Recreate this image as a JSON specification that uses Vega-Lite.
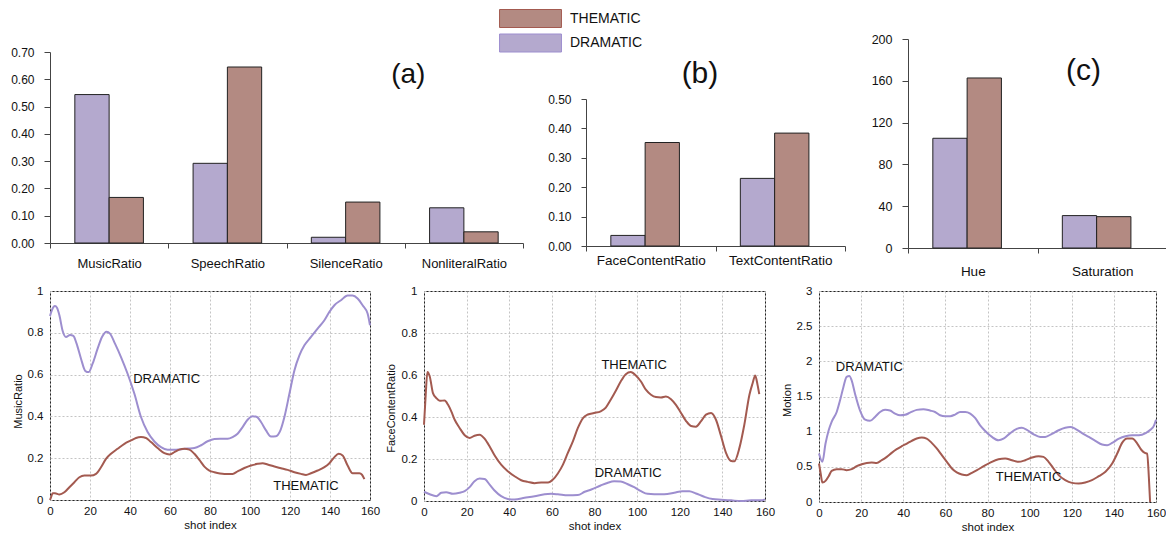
{
  "$schema": "https://vega.github.io/schema/vega-lite/v6.json",
  "background": "white",
  "padding": {"left": 7, "top": 9, "right": 0, "bottom": 0},
  "autosize": {"type": "pad"},
  "config": {
    "font": "Liberation Sans",
    "view": {"stroke": null},
    "axis": {"labelFont": "Liberation Sans", "titleFont": "Liberation Sans", "labelColor": "#111", "titleColor": "#111", "titleFontWeight": "normal", "labelOverlap": false},
    "legend": {"labelFont": "Liberation Sans"}
  },
  "datasets": {
    "bars_a": [
      {"feature": "MusicRatio", "genre": "DRAMATIC", "value": 0.544},
      {"feature": "MusicRatio", "genre": "THEMATIC", "value": 0.167},
      {"feature": "SpeechRatio", "genre": "DRAMATIC", "value": 0.292},
      {"feature": "SpeechRatio", "genre": "THEMATIC", "value": 0.645},
      {"feature": "SilenceRatio", "genre": "DRAMATIC", "value": 0.021},
      {"feature": "SilenceRatio", "genre": "THEMATIC", "value": 0.150},
      {"feature": "NonliteralRatio", "genre": "DRAMATIC", "value": 0.129},
      {"feature": "NonliteralRatio", "genre": "THEMATIC", "value": 0.041}
    ],
    "bars_b": [
      {"feature": "FaceContentRatio", "genre": "DRAMATIC", "value": 0.036},
      {"feature": "FaceContentRatio", "genre": "THEMATIC", "value": 0.352},
      {"feature": "TextContentRatio", "genre": "DRAMATIC", "value": 0.230},
      {"feature": "TextContentRatio", "genre": "THEMATIC", "value": 0.384}
    ],
    "bars_c": [
      {"feature": "Hue", "genre": "DRAMATIC", "value": 105},
      {"feature": "Hue", "genre": "THEMATIC", "value": 162.7},
      {"feature": "Saturation", "genre": "DRAMATIC", "value": 31},
      {"feature": "Saturation", "genre": "THEMATIC", "value": 30}
    ],
    "music": [
      {"genre": "DRAMATIC", "shot": 0, "value": 0.88},
      {"genre": "DRAMATIC", "shot": 1, "value": 0.91},
      {"genre": "DRAMATIC", "shot": 2.5, "value": 0.928},
      {"genre": "DRAMATIC", "shot": 3.5, "value": 0.92},
      {"genre": "DRAMATIC", "shot": 4.7, "value": 0.884},
      {"genre": "DRAMATIC", "shot": 6.3, "value": 0.81},
      {"genre": "DRAMATIC", "shot": 8, "value": 0.78},
      {"genre": "DRAMATIC", "shot": 10, "value": 0.79},
      {"genre": "DRAMATIC", "shot": 11.7, "value": 0.785},
      {"genre": "DRAMATIC", "shot": 13.3, "value": 0.748},
      {"genre": "DRAMATIC", "shot": 15.5, "value": 0.676},
      {"genre": "DRAMATIC", "shot": 17.7, "value": 0.617},
      {"genre": "DRAMATIC", "shot": 19.3, "value": 0.612},
      {"genre": "DRAMATIC", "shot": 21.3, "value": 0.652},
      {"genre": "DRAMATIC", "shot": 23.8, "value": 0.724},
      {"genre": "DRAMATIC", "shot": 26, "value": 0.78},
      {"genre": "DRAMATIC", "shot": 28.3, "value": 0.805},
      {"genre": "DRAMATIC", "shot": 30, "value": 0.796},
      {"genre": "DRAMATIC", "shot": 32.5, "value": 0.748},
      {"genre": "DRAMATIC", "shot": 35.5, "value": 0.684},
      {"genre": "DRAMATIC", "shot": 38.8, "value": 0.604},
      {"genre": "DRAMATIC", "shot": 42.2, "value": 0.508},
      {"genre": "DRAMATIC", "shot": 45.5, "value": 0.397},
      {"genre": "DRAMATIC", "shot": 48.8, "value": 0.325},
      {"genre": "DRAMATIC", "shot": 52.2, "value": 0.28},
      {"genre": "DRAMATIC", "shot": 55.5, "value": 0.253},
      {"genre": "DRAMATIC", "shot": 58.8, "value": 0.241},
      {"genre": "DRAMATIC", "shot": 62.2, "value": 0.240},
      {"genre": "DRAMATIC", "shot": 65.5, "value": 0.243},
      {"genre": "DRAMATIC", "shot": 68.8, "value": 0.246},
      {"genre": "DRAMATIC", "shot": 72.2, "value": 0.249},
      {"genre": "DRAMATIC", "shot": 75.5, "value": 0.262},
      {"genre": "DRAMATIC", "shot": 78.8, "value": 0.281},
      {"genre": "DRAMATIC", "shot": 82.2, "value": 0.292},
      {"genre": "DRAMATIC", "shot": 85, "value": 0.293},
      {"genre": "DRAMATIC", "shot": 88.8, "value": 0.293},
      {"genre": "DRAMATIC", "shot": 91.3, "value": 0.301},
      {"genre": "DRAMATIC", "shot": 93.8, "value": 0.317},
      {"genre": "DRAMATIC", "shot": 96.3, "value": 0.349},
      {"genre": "DRAMATIC", "shot": 98.8, "value": 0.384},
      {"genre": "DRAMATIC", "shot": 101.3, "value": 0.401},
      {"genre": "DRAMATIC", "shot": 103.5, "value": 0.397},
      {"genre": "DRAMATIC", "shot": 105.5, "value": 0.373},
      {"genre": "DRAMATIC", "shot": 108, "value": 0.333},
      {"genre": "DRAMATIC", "shot": 110.5, "value": 0.304},
      {"genre": "DRAMATIC", "shot": 113, "value": 0.305},
      {"genre": "DRAMATIC", "shot": 115.2, "value": 0.333},
      {"genre": "DRAMATIC", "shot": 117.2, "value": 0.397},
      {"genre": "DRAMATIC", "shot": 119.7, "value": 0.508},
      {"genre": "DRAMATIC", "shot": 122.2, "value": 0.620},
      {"genre": "DRAMATIC", "shot": 124.7, "value": 0.692},
      {"genre": "DRAMATIC", "shot": 127.2, "value": 0.74},
      {"genre": "DRAMATIC", "shot": 130.5, "value": 0.78},
      {"genre": "DRAMATIC", "shot": 133.8, "value": 0.82},
      {"genre": "DRAMATIC", "shot": 137.2, "value": 0.86},
      {"genre": "DRAMATIC", "shot": 139.7, "value": 0.90},
      {"genre": "DRAMATIC", "shot": 142.2, "value": 0.932},
      {"genre": "DRAMATIC", "shot": 145.5, "value": 0.956},
      {"genre": "DRAMATIC", "shot": 148.8, "value": 0.978},
      {"genre": "DRAMATIC", "shot": 151.3, "value": 0.978},
      {"genre": "DRAMATIC", "shot": 153.8, "value": 0.964},
      {"genre": "DRAMATIC", "shot": 156.3, "value": 0.932},
      {"genre": "DRAMATIC", "shot": 158.8, "value": 0.892},
      {"genre": "DRAMATIC", "shot": 160, "value": 0.836},
      {"genre": "THEMATIC", "shot": 0, "value": 0.0},
      {"genre": "THEMATIC", "shot": 0.5, "value": 0.012},
      {"genre": "THEMATIC", "shot": 1.3, "value": 0.032},
      {"genre": "THEMATIC", "shot": 2.5, "value": 0.032},
      {"genre": "THEMATIC", "shot": 4.7, "value": 0.026},
      {"genre": "THEMATIC", "shot": 7.2, "value": 0.037},
      {"genre": "THEMATIC", "shot": 9.7, "value": 0.061},
      {"genre": "THEMATIC", "shot": 12.2, "value": 0.085},
      {"genre": "THEMATIC", "shot": 14.7, "value": 0.109},
      {"genre": "THEMATIC", "shot": 17.2, "value": 0.117},
      {"genre": "THEMATIC", "shot": 20.5, "value": 0.117},
      {"genre": "THEMATIC", "shot": 23, "value": 0.125},
      {"genre": "THEMATIC", "shot": 25.5, "value": 0.157},
      {"genre": "THEMATIC", "shot": 28, "value": 0.197},
      {"genre": "THEMATIC", "shot": 30.5, "value": 0.221},
      {"genre": "THEMATIC", "shot": 33.8, "value": 0.245},
      {"genre": "THEMATIC", "shot": 37.2, "value": 0.269},
      {"genre": "THEMATIC", "shot": 40.5, "value": 0.285},
      {"genre": "THEMATIC", "shot": 43, "value": 0.297},
      {"genre": "THEMATIC", "shot": 45.5, "value": 0.301},
      {"genre": "THEMATIC", "shot": 48, "value": 0.297},
      {"genre": "THEMATIC", "shot": 50.5, "value": 0.277},
      {"genre": "THEMATIC", "shot": 53.8, "value": 0.249},
      {"genre": "THEMATIC", "shot": 57.2, "value": 0.224},
      {"genre": "THEMATIC", "shot": 59.7, "value": 0.218},
      {"genre": "THEMATIC", "shot": 62.2, "value": 0.229},
      {"genre": "THEMATIC", "shot": 64.7, "value": 0.241},
      {"genre": "THEMATIC", "shot": 67.2, "value": 0.245},
      {"genre": "THEMATIC", "shot": 69.7, "value": 0.241},
      {"genre": "THEMATIC", "shot": 72.2, "value": 0.221},
      {"genre": "THEMATIC", "shot": 74.7, "value": 0.192},
      {"genre": "THEMATIC", "shot": 77.2, "value": 0.16},
      {"genre": "THEMATIC", "shot": 79.7, "value": 0.141},
      {"genre": "THEMATIC", "shot": 82.2, "value": 0.133},
      {"genre": "THEMATIC", "shot": 85, "value": 0.127},
      {"genre": "THEMATIC", "shot": 87.2, "value": 0.125},
      {"genre": "THEMATIC", "shot": 91.3, "value": 0.125},
      {"genre": "THEMATIC", "shot": 93.8, "value": 0.137},
      {"genre": "THEMATIC", "shot": 97.2, "value": 0.153},
      {"genre": "THEMATIC", "shot": 100.5, "value": 0.165},
      {"genre": "THEMATIC", "shot": 103.8, "value": 0.173},
      {"genre": "THEMATIC", "shot": 106.3, "value": 0.176},
      {"genre": "THEMATIC", "shot": 108.8, "value": 0.17},
      {"genre": "THEMATIC", "shot": 112.2, "value": 0.16},
      {"genre": "THEMATIC", "shot": 115.5, "value": 0.152},
      {"genre": "THEMATIC", "shot": 118.8, "value": 0.144},
      {"genre": "THEMATIC", "shot": 122.2, "value": 0.133},
      {"genre": "THEMATIC", "shot": 125.5, "value": 0.125},
      {"genre": "THEMATIC", "shot": 128, "value": 0.12},
      {"genre": "THEMATIC", "shot": 130.5, "value": 0.128},
      {"genre": "THEMATIC", "shot": 133.8, "value": 0.141},
      {"genre": "THEMATIC", "shot": 137.2, "value": 0.157},
      {"genre": "THEMATIC", "shot": 139.7, "value": 0.176},
      {"genre": "THEMATIC", "shot": 142.2, "value": 0.205},
      {"genre": "THEMATIC", "shot": 144.3, "value": 0.221},
      {"genre": "THEMATIC", "shot": 146.3, "value": 0.213},
      {"genre": "THEMATIC", "shot": 148.8, "value": 0.165},
      {"genre": "THEMATIC", "shot": 151.3, "value": 0.128},
      {"genre": "THEMATIC", "shot": 154.7, "value": 0.128},
      {"genre": "THEMATIC", "shot": 156, "value": 0.121},
      {"genre": "THEMATIC", "shot": 157.2, "value": 0.10}
    ],
    "face": [
      {"genre": "THEMATIC", "shot": 0, "value": 0.363},
      {"genre": "THEMATIC", "shot": 0.8, "value": 0.506},
      {"genre": "THEMATIC", "shot": 1.6, "value": 0.614},
      {"genre": "THEMATIC", "shot": 2.7, "value": 0.593},
      {"genre": "THEMATIC", "shot": 4.2, "value": 0.514},
      {"genre": "THEMATIC", "shot": 5.8, "value": 0.49},
      {"genre": "THEMATIC", "shot": 7.4, "value": 0.477},
      {"genre": "THEMATIC", "shot": 9.7, "value": 0.479},
      {"genre": "THEMATIC", "shot": 11.3, "value": 0.458},
      {"genre": "THEMATIC", "shot": 12.8, "value": 0.427},
      {"genre": "THEMATIC", "shot": 14.4, "value": 0.387},
      {"genre": "THEMATIC", "shot": 16.7, "value": 0.348},
      {"genre": "THEMATIC", "shot": 19.1, "value": 0.313},
      {"genre": "THEMATIC", "shot": 21.4, "value": 0.30},
      {"genre": "THEMATIC", "shot": 23.7, "value": 0.311},
      {"genre": "THEMATIC", "shot": 26.1, "value": 0.316},
      {"genre": "THEMATIC", "shot": 28.4, "value": 0.297},
      {"genre": "THEMATIC", "shot": 30.8, "value": 0.26},
      {"genre": "THEMATIC", "shot": 33.1, "value": 0.218},
      {"genre": "THEMATIC", "shot": 36.2, "value": 0.173},
      {"genre": "THEMATIC", "shot": 39.3, "value": 0.142},
      {"genre": "THEMATIC", "shot": 42.5, "value": 0.118},
      {"genre": "THEMATIC", "shot": 45.6, "value": 0.099},
      {"genre": "THEMATIC", "shot": 48.7, "value": 0.091},
      {"genre": "THEMATIC", "shot": 51.9, "value": 0.085},
      {"genre": "THEMATIC", "shot": 55, "value": 0.088},
      {"genre": "THEMATIC", "shot": 58.2, "value": 0.088},
      {"genre": "THEMATIC", "shot": 60.5, "value": 0.102},
      {"genre": "THEMATIC", "shot": 62.8, "value": 0.131},
      {"genre": "THEMATIC", "shot": 65.2, "value": 0.173},
      {"genre": "THEMATIC", "shot": 67.5, "value": 0.229},
      {"genre": "THEMATIC", "shot": 69.9, "value": 0.285},
      {"genre": "THEMATIC", "shot": 72.2, "value": 0.348},
      {"genre": "THEMATIC", "shot": 74.6, "value": 0.395},
      {"genre": "THEMATIC", "shot": 76.9, "value": 0.412},
      {"genre": "THEMATIC", "shot": 79.8, "value": 0.419},
      {"genre": "THEMATIC", "shot": 82.9, "value": 0.427},
      {"genre": "THEMATIC", "shot": 85.3, "value": 0.445},
      {"genre": "THEMATIC", "shot": 87.6, "value": 0.482},
      {"genre": "THEMATIC", "shot": 90, "value": 0.525},
      {"genre": "THEMATIC", "shot": 92.3, "value": 0.569},
      {"genre": "THEMATIC", "shot": 94.7, "value": 0.604},
      {"genre": "THEMATIC", "shot": 97, "value": 0.614},
      {"genre": "THEMATIC", "shot": 99.4, "value": 0.598},
      {"genre": "THEMATIC", "shot": 101.8, "value": 0.569},
      {"genre": "THEMATIC", "shot": 104.1, "value": 0.53},
      {"genre": "THEMATIC", "shot": 106.5, "value": 0.506},
      {"genre": "THEMATIC", "shot": 108.8, "value": 0.495},
      {"genre": "THEMATIC", "shot": 111.2, "value": 0.493},
      {"genre": "THEMATIC", "shot": 113.5, "value": 0.498},
      {"genre": "THEMATIC", "shot": 115.9, "value": 0.485},
      {"genre": "THEMATIC", "shot": 118.2, "value": 0.458},
      {"genre": "THEMATIC", "shot": 120.6, "value": 0.419},
      {"genre": "THEMATIC", "shot": 122.9, "value": 0.382},
      {"genre": "THEMATIC", "shot": 125.3, "value": 0.357},
      {"genre": "THEMATIC", "shot": 127.6, "value": 0.354},
      {"genre": "THEMATIC", "shot": 130, "value": 0.38},
      {"genre": "THEMATIC", "shot": 132.3, "value": 0.411},
      {"genre": "THEMATIC", "shot": 134.7, "value": 0.419},
      {"genre": "THEMATIC", "shot": 137, "value": 0.387},
      {"genre": "THEMATIC", "shot": 139.4, "value": 0.308},
      {"genre": "THEMATIC", "shot": 141.7, "value": 0.229},
      {"genre": "THEMATIC", "shot": 143.8, "value": 0.192},
      {"genre": "THEMATIC", "shot": 145.6, "value": 0.189},
      {"genre": "THEMATIC", "shot": 148, "value": 0.253},
      {"genre": "THEMATIC", "shot": 150.3, "value": 0.363},
      {"genre": "THEMATIC", "shot": 152.7, "value": 0.506},
      {"genre": "THEMATIC", "shot": 154.2, "value": 0.561},
      {"genre": "THEMATIC", "shot": 155.4, "value": 0.598},
      {"genre": "THEMATIC", "shot": 156.5, "value": 0.553},
      {"genre": "THEMATIC", "shot": 157.3, "value": 0.509},
      {"genre": "DRAMATIC", "shot": 0, "value": 0.044},
      {"genre": "DRAMATIC", "shot": 2.7, "value": 0.032},
      {"genre": "DRAMATIC", "shot": 5.8, "value": 0.023},
      {"genre": "DRAMATIC", "shot": 8.1, "value": 0.039},
      {"genre": "DRAMATIC", "shot": 10.4, "value": 0.042},
      {"genre": "DRAMATIC", "shot": 13.6, "value": 0.034},
      {"genre": "DRAMATIC", "shot": 16.7, "value": 0.039},
      {"genre": "DRAMATIC", "shot": 19.1, "value": 0.047},
      {"genre": "DRAMATIC", "shot": 21.4, "value": 0.066},
      {"genre": "DRAMATIC", "shot": 23.7, "value": 0.094},
      {"genre": "DRAMATIC", "shot": 26.1, "value": 0.107},
      {"genre": "DRAMATIC", "shot": 28.4, "value": 0.105},
      {"genre": "DRAMATIC", "shot": 30.8, "value": 0.078},
      {"genre": "DRAMATIC", "shot": 33.1, "value": 0.05},
      {"genre": "DRAMATIC", "shot": 36.2, "value": 0.023},
      {"genre": "DRAMATIC", "shot": 39.3, "value": 0.01},
      {"genre": "DRAMATIC", "shot": 42.5, "value": 0.007},
      {"genre": "DRAMATIC", "shot": 47.2, "value": 0.015},
      {"genre": "DRAMATIC", "shot": 51.9, "value": 0.023},
      {"genre": "DRAMATIC", "shot": 56.6, "value": 0.032},
      {"genre": "DRAMATIC", "shot": 59.7, "value": 0.034},
      {"genre": "DRAMATIC", "shot": 62.8, "value": 0.032},
      {"genre": "DRAMATIC", "shot": 67.5, "value": 0.027},
      {"genre": "DRAMATIC", "shot": 72.2, "value": 0.028},
      {"genre": "DRAMATIC", "shot": 75.4, "value": 0.044},
      {"genre": "DRAMATIC", "shot": 78.5, "value": 0.055},
      {"genre": "DRAMATIC", "shot": 82.9, "value": 0.074},
      {"genre": "DRAMATIC", "shot": 86, "value": 0.086},
      {"genre": "DRAMATIC", "shot": 89.2, "value": 0.094},
      {"genre": "DRAMATIC", "shot": 92.3, "value": 0.093},
      {"genre": "DRAMATIC", "shot": 95.4, "value": 0.081},
      {"genre": "DRAMATIC", "shot": 98.6, "value": 0.066},
      {"genre": "DRAMATIC", "shot": 101.8, "value": 0.047},
      {"genre": "DRAMATIC", "shot": 104.9, "value": 0.034},
      {"genre": "DRAMATIC", "shot": 108, "value": 0.032},
      {"genre": "DRAMATIC", "shot": 112.7, "value": 0.032},
      {"genre": "DRAMATIC", "shot": 117.4, "value": 0.039},
      {"genre": "DRAMATIC", "shot": 121.3, "value": 0.047},
      {"genre": "DRAMATIC", "shot": 124.5, "value": 0.047},
      {"genre": "DRAMATIC", "shot": 127.6, "value": 0.036},
      {"genre": "DRAMATIC", "shot": 131.5, "value": 0.02},
      {"genre": "DRAMATIC", "shot": 135.4, "value": 0.009},
      {"genre": "DRAMATIC", "shot": 139.4, "value": 0.006},
      {"genre": "DRAMATIC", "shot": 144.1, "value": 0.003},
      {"genre": "DRAMATIC", "shot": 148.8, "value": 0.0},
      {"genre": "DRAMATIC", "shot": 153.5, "value": 0.003},
      {"genre": "DRAMATIC", "shot": 158.2, "value": 0.003},
      {"genre": "DRAMATIC", "shot": 160, "value": 0.008}
    ],
    "motion": [
      {"genre": "DRAMATIC", "shot": 0, "value": 0.689},
      {"genre": "DRAMATIC", "shot": 1.6, "value": 0.571},
      {"genre": "DRAMATIC", "shot": 3.1, "value": 0.831},
      {"genre": "DRAMATIC", "shot": 4.6, "value": 1.02},
      {"genre": "DRAMATIC", "shot": 6.0, "value": 1.14},
      {"genre": "DRAMATIC", "shot": 8.4, "value": 1.28},
      {"genre": "DRAMATIC", "shot": 10, "value": 1.446},
      {"genre": "DRAMATIC", "shot": 11.6, "value": 1.636},
      {"genre": "DRAMATIC", "shot": 13.1, "value": 1.778},
      {"genre": "DRAMATIC", "shot": 14.4, "value": 1.79},
      {"genre": "DRAMATIC", "shot": 15.5, "value": 1.73},
      {"genre": "DRAMATIC", "shot": 17.1, "value": 1.54},
      {"genre": "DRAMATIC", "shot": 19.5, "value": 1.30},
      {"genre": "DRAMATIC", "shot": 21.9, "value": 1.17},
      {"genre": "DRAMATIC", "shot": 24.2, "value": 1.154},
      {"genre": "DRAMATIC", "shot": 26.6, "value": 1.21},
      {"genre": "DRAMATIC", "shot": 29, "value": 1.28},
      {"genre": "DRAMATIC", "shot": 31.4, "value": 1.31},
      {"genre": "DRAMATIC", "shot": 33.7, "value": 1.30},
      {"genre": "DRAMATIC", "shot": 36.1, "value": 1.257},
      {"genre": "DRAMATIC", "shot": 38.5, "value": 1.233},
      {"genre": "DRAMATIC", "shot": 40.9, "value": 1.24},
      {"genre": "DRAMATIC", "shot": 43.2, "value": 1.27},
      {"genre": "DRAMATIC", "shot": 46.4, "value": 1.31},
      {"genre": "DRAMATIC", "shot": 49.6, "value": 1.32},
      {"genre": "DRAMATIC", "shot": 52.7, "value": 1.30},
      {"genre": "DRAMATIC", "shot": 55.1, "value": 1.28},
      {"genre": "DRAMATIC", "shot": 57.5, "value": 1.233},
      {"genre": "DRAMATIC", "shot": 59.9, "value": 1.22},
      {"genre": "DRAMATIC", "shot": 62.3, "value": 1.22},
      {"genre": "DRAMATIC", "shot": 64.6, "value": 1.243},
      {"genre": "DRAMATIC", "shot": 67, "value": 1.28},
      {"genre": "DRAMATIC", "shot": 69.4, "value": 1.28},
      {"genre": "DRAMATIC", "shot": 71.8, "value": 1.257},
      {"genre": "DRAMATIC", "shot": 74.1, "value": 1.195},
      {"genre": "DRAMATIC", "shot": 76.5, "value": 1.09},
      {"genre": "DRAMATIC", "shot": 78.9, "value": 1.01},
      {"genre": "DRAMATIC", "shot": 82.1, "value": 0.925},
      {"genre": "DRAMATIC", "shot": 85.2, "value": 0.878},
      {"genre": "DRAMATIC", "shot": 87.6, "value": 0.9},
      {"genre": "DRAMATIC", "shot": 90.8, "value": 0.98},
      {"genre": "DRAMATIC", "shot": 93.9, "value": 1.04},
      {"genre": "DRAMATIC", "shot": 96.3, "value": 1.055},
      {"genre": "DRAMATIC", "shot": 98.7, "value": 1.027},
      {"genre": "DRAMATIC", "shot": 101.9, "value": 0.963},
      {"genre": "DRAMATIC", "shot": 105, "value": 0.925},
      {"genre": "DRAMATIC", "shot": 107.4, "value": 0.925},
      {"genre": "DRAMATIC", "shot": 110.6, "value": 0.97},
      {"genre": "DRAMATIC", "shot": 113.8, "value": 1.02},
      {"genre": "DRAMATIC", "shot": 116.9, "value": 1.055},
      {"genre": "DRAMATIC", "shot": 119.3, "value": 1.065},
      {"genre": "DRAMATIC", "shot": 121.7, "value": 1.04},
      {"genre": "DRAMATIC", "shot": 124.9, "value": 0.98},
      {"genre": "DRAMATIC", "shot": 128.1, "value": 0.925},
      {"genre": "DRAMATIC", "shot": 131.2, "value": 0.87},
      {"genre": "DRAMATIC", "shot": 134.4, "value": 0.817},
      {"genre": "DRAMATIC", "shot": 136.8, "value": 0.807},
      {"genre": "DRAMATIC", "shot": 139.2, "value": 0.84},
      {"genre": "DRAMATIC", "shot": 142.4, "value": 0.9},
      {"genre": "DRAMATIC", "shot": 145.5, "value": 0.935},
      {"genre": "DRAMATIC", "shot": 148.7, "value": 0.95},
      {"genre": "DRAMATIC", "shot": 151.9, "value": 0.95},
      {"genre": "DRAMATIC", "shot": 155.1, "value": 0.98},
      {"genre": "DRAMATIC", "shot": 157.5, "value": 1.03},
      {"genre": "DRAMATIC", "shot": 159.1, "value": 1.09},
      {"genre": "DRAMATIC", "shot": 160, "value": 1.17},
      {"genre": "THEMATIC", "shot": 0, "value": 0.547},
      {"genre": "THEMATIC", "shot": 0.8, "value": 0.405},
      {"genre": "THEMATIC", "shot": 1.6, "value": 0.277},
      {"genre": "THEMATIC", "shot": 3.1, "value": 0.30},
      {"genre": "THEMATIC", "shot": 4.6, "value": 0.367},
      {"genre": "THEMATIC", "shot": 6.0, "value": 0.443},
      {"genre": "THEMATIC", "shot": 8.4, "value": 0.467},
      {"genre": "THEMATIC", "shot": 10.8, "value": 0.467},
      {"genre": "THEMATIC", "shot": 13.1, "value": 0.453},
      {"genre": "THEMATIC", "shot": 15.5, "value": 0.467},
      {"genre": "THEMATIC", "shot": 17.9, "value": 0.509},
      {"genre": "THEMATIC", "shot": 20.3, "value": 0.537},
      {"genre": "THEMATIC", "shot": 22.7, "value": 0.556},
      {"genre": "THEMATIC", "shot": 25, "value": 0.561},
      {"genre": "THEMATIC", "shot": 27.4, "value": 0.556},
      {"genre": "THEMATIC", "shot": 29.8, "value": 0.594},
      {"genre": "THEMATIC", "shot": 32.2, "value": 0.642},
      {"genre": "THEMATIC", "shot": 34.5, "value": 0.699},
      {"genre": "THEMATIC", "shot": 36.9, "value": 0.751},
      {"genre": "THEMATIC", "shot": 39.3, "value": 0.793},
      {"genre": "THEMATIC", "shot": 41.7, "value": 0.831},
      {"genre": "THEMATIC", "shot": 44, "value": 0.869},
      {"genre": "THEMATIC", "shot": 46.4, "value": 0.902},
      {"genre": "THEMATIC", "shot": 48.8, "value": 0.916},
      {"genre": "THEMATIC", "shot": 51.1, "value": 0.902},
      {"genre": "THEMATIC", "shot": 53.5, "value": 0.841},
      {"genre": "THEMATIC", "shot": 55.9, "value": 0.761},
      {"genre": "THEMATIC", "shot": 58.3, "value": 0.666},
      {"genre": "THEMATIC", "shot": 60.7, "value": 0.571},
      {"genre": "THEMATIC", "shot": 63.1, "value": 0.476},
      {"genre": "THEMATIC", "shot": 65.4, "value": 0.42},
      {"genre": "THEMATIC", "shot": 67.8, "value": 0.391},
      {"genre": "THEMATIC", "shot": 70.2, "value": 0.382},
      {"genre": "THEMATIC", "shot": 72.6, "value": 0.415},
      {"genre": "THEMATIC", "shot": 75, "value": 0.453},
      {"genre": "THEMATIC", "shot": 78.2, "value": 0.509},
      {"genre": "THEMATIC", "shot": 81.3, "value": 0.56},
      {"genre": "THEMATIC", "shot": 85.2, "value": 0.608},
      {"genre": "THEMATIC", "shot": 88.4, "value": 0.618},
      {"genre": "THEMATIC", "shot": 91.6, "value": 0.594},
      {"genre": "THEMATIC", "shot": 94.7, "value": 0.571},
      {"genre": "THEMATIC", "shot": 97.9, "value": 0.594},
      {"genre": "THEMATIC", "shot": 101.1, "value": 0.632},
      {"genre": "THEMATIC", "shot": 104.2, "value": 0.651},
      {"genre": "THEMATIC", "shot": 106.6, "value": 0.642},
      {"genre": "THEMATIC", "shot": 109, "value": 0.571},
      {"genre": "THEMATIC", "shot": 111.4, "value": 0.476},
      {"genre": "THEMATIC", "shot": 113.8, "value": 0.382},
      {"genre": "THEMATIC", "shot": 116.9, "value": 0.31},
      {"genre": "THEMATIC", "shot": 120.1, "value": 0.272},
      {"genre": "THEMATIC", "shot": 123.3, "value": 0.263},
      {"genre": "THEMATIC", "shot": 126.4, "value": 0.277},
      {"genre": "THEMATIC", "shot": 129.6, "value": 0.31},
      {"genre": "THEMATIC", "shot": 132.8, "value": 0.367},
      {"genre": "THEMATIC", "shot": 136, "value": 0.429},
      {"genre": "THEMATIC", "shot": 139.2, "value": 0.547},
      {"genre": "THEMATIC", "shot": 141.6, "value": 0.689},
      {"genre": "THEMATIC", "shot": 143.9, "value": 0.841},
      {"genre": "THEMATIC", "shot": 146.3, "value": 0.902},
      {"genre": "THEMATIC", "shot": 148.7, "value": 0.902},
      {"genre": "THEMATIC", "shot": 151.1, "value": 0.831},
      {"genre": "THEMATIC", "shot": 153.2, "value": 0.736},
      {"genre": "THEMATIC", "shot": 154.7, "value": 0.699},
      {"genre": "THEMATIC", "shot": 155.8, "value": 0.689},
      {"genre": "THEMATIC", "shot": 156.6, "value": 0.358},
      {"genre": "THEMATIC", "shot": 157.2, "value": 0.0}
    ]
  },
  "spacing": 6,
  "vconcat": [
    {
      "bounds": "flush",
      "spacing": 63,
      "hconcat": [
        {
          "width": 473,
          "height": 204,
          "encoding": {
            "x": {"field": "feature", "type": "nominal", "sort": ["MusicRatio", "SpeechRatio", "SilenceRatio", "NonliteralRatio"], "scale": {"paddingInner": 0, "paddingOuter": 0}, "axis": {"title": null, "labelAngle": 0, "tickBand": "extent", "tickSize": 5, "labelPadding": 9, "labelFontSize": 13, "labelOverlap": false, "domainColor": "#444", "tickColor": "#444"}},
            "y": {"field": "value", "type": "quantitative", "scale": {"domain": [0, 0.7], "range": [204, 13], "nice": false}, "axis": {"title": null, "values": [0, 0.1, 0.2, 0.3, 0.4, 0.5, 0.6, 0.7], "format": ".2f", "grid": false, "tickSize": 6, "labelPadding": 10, "labelFontSize": 12, "labelOverlap": false, "minExtent": 42, "maxExtent": 42, "domainColor": "#444", "tickColor": "#444"}}
          },
          "layer": [
            {
              "data": {"name": "bars_a"},
              "mark": {"type": "bar", "stroke": "#222", "strokeWidth": 1},
              "encoding": {
                "xOffset": {"field": "genre", "type": "nominal", "sort": ["DRAMATIC", "THEMATIC"], "scale": {"paddingInner": 0, "paddingOuter": 0.724}},
                "fill": {"field": "genre", "type": "nominal", "scale": {"domain": ["THEMATIC", "DRAMATIC"], "range": ["#b38a82", "#b4a9ce"]}, "legend": {"orient": "none", "legendX": 471, "legendY": -30, "title": null, "direction": "vertical", "symbolType": "M-3.44,-1H3.44V1H-3.44Z", "symbolSize": 324, "symbolStrokeColor": "#333", "symbolStrokeWidth": 1, "symbolOpacity": 1, "labelFontSize": 14, "labelOffset": 30, "rowPadding": 1.5, "padding": 0, "labelColor": "#111"}}
              }
            },
            {
              "data": {"values": [{"label": "(a)", "feature": "NonliteralRatio", "value": 0.586}]},
              "mark": {"type": "text", "fontSize": 28, "font": "Liberation Sans", "color": "#111", "baseline": "alphabetic", "align": "center"},
              "encoding": {
                "x": {"field": "feature", "type": "nominal", "bandPosition": 0.03, "sort": ["MusicRatio", "SpeechRatio", "SilenceRatio", "NonliteralRatio"], "scale": {"paddingInner": 0, "paddingOuter": 0}, "axis": {"title": null, "labelAngle": 0, "tickBand": "extent", "tickSize": 5, "labelPadding": 9, "labelFontSize": 13, "labelOverlap": false, "domainColor": "#444", "tickColor": "#444"}},
                "text": {"field": "label"}
              }
            }
          ]
        },
        {
          "width": 259,
          "height": 207,
          "encoding": {
            "x": {"field": "feature", "type": "nominal", "sort": ["FaceContentRatio", "TextContentRatio"], "scale": {"paddingInner": 0, "paddingOuter": 0}, "axis": {"title": null, "labelAngle": 0, "tickBand": "extent", "tickSize": 5, "labelPadding": 2, "labelFontSize": 13.5, "labelOverlap": false, "domainColor": "#444", "tickColor": "#444"}},
            "y": {"field": "value", "type": "quantitative", "scale": {"domain": [0, 0.5], "range": [207, 60], "nice": false}, "axis": {"title": null, "values": [0, 0.1, 0.2, 0.3, 0.4, 0.5], "format": ".2f", "grid": false, "tickSize": 5, "labelPadding": 10, "labelFontSize": 12, "labelOverlap": false, "domainColor": "#444", "tickColor": "#444"}}
          },
          "layer": [
            {
              "data": {"name": "bars_b"},
              "mark": {"type": "bar", "stroke": "#222", "strokeWidth": 1},
              "encoding": {
                "xOffset": {"field": "genre", "type": "nominal", "sort": ["DRAMATIC", "THEMATIC"], "scale": {"paddingInner": 0, "paddingOuter": 0.724}},
                "fill": {"field": "genre", "type": "nominal", "scale": {"domain": ["THEMATIC", "DRAMATIC"], "range": ["#b38a82", "#b4a9ce"]}, "legend": {"orient": "none", "legendX": 471, "legendY": -30, "title": null, "direction": "vertical", "symbolType": "M-3.44,-1H3.44V1H-3.44Z", "symbolSize": 324, "symbolStrokeColor": "#333", "symbolStrokeWidth": 1, "symbolOpacity": 1, "labelFontSize": 14, "labelOffset": 30, "rowPadding": 1.5, "padding": 0, "labelColor": "#111"}}
              }
            },
            {
              "data": {"values": [{"label": "(b)", "feature": "FaceContentRatio", "value": 0.554}]},
              "mark": {"type": "text", "fontSize": 30, "font": "Liberation Sans", "color": "#111", "baseline": "alphabetic", "align": "center"},
              "encoding": {
                "x": {"field": "feature", "type": "nominal", "bandPosition": 0.88, "sort": ["FaceContentRatio", "TextContentRatio"], "scale": {"paddingInner": 0, "paddingOuter": 0}, "axis": {"title": null, "labelAngle": 0, "tickBand": "extent", "tickSize": 5, "labelPadding": 2, "labelFontSize": 13.5, "labelOverlap": false, "domainColor": "#444", "tickColor": "#444"}},
                "text": {"field": "label"}
              }
            }
          ]
        },
        {
          "width": 259,
          "height": 209,
          "encoding": {
            "x": {"field": "feature", "type": "nominal", "sort": ["Hue", "Saturation"], "scale": {"paddingInner": 0, "paddingOuter": 0}, "axis": {"title": null, "labelAngle": 0, "tickBand": "extent", "tickSize": 5, "labelPadding": 11, "labelFontSize": 13.5, "labelOverlap": false, "domainColor": "#444", "tickColor": "#444"}},
            "y": {"field": "value", "type": "quantitative", "scale": {"domain": [0, 200], "range": [209, 0], "nice": false}, "axis": {"title": null, "values": [0, 40, 80, 120, 160, 200], "format": "d", "grid": false, "tickSize": 6, "labelPadding": 10, "labelFontSize": 12.5, "labelOverlap": false, "domainColor": "#444", "tickColor": "#444"}}
          },
          "layer": [
            {
              "data": {"name": "bars_c"},
              "mark": {"type": "bar", "stroke": "#222", "strokeWidth": 1},
              "encoding": {
                "xOffset": {"field": "genre", "type": "nominal", "sort": ["DRAMATIC", "THEMATIC"], "scale": {"paddingInner": 0, "paddingOuter": 0.724}},
                "fill": {"field": "genre", "type": "nominal", "scale": {"domain": ["THEMATIC", "DRAMATIC"], "range": ["#b38a82", "#b4a9ce"]}, "legend": {"orient": "none", "legendX": 471, "legendY": -30, "title": null, "direction": "vertical", "symbolType": "M-3.44,-1H3.44V1H-3.44Z", "symbolSize": 324, "symbolStrokeColor": "#333", "symbolStrokeWidth": 1, "symbolOpacity": 1, "labelFontSize": 14, "labelOffset": 30, "rowPadding": 1.5, "padding": 0, "labelColor": "#111"}}
              }
            },
            {
              "data": {"values": [{"label": "(c)", "feature": "Saturation", "value": 160.8}]},
              "mark": {"type": "text", "fontSize": 30, "font": "Liberation Sans", "color": "#111", "baseline": "alphabetic", "align": "center"},
              "encoding": {
                "x": {"field": "feature", "type": "nominal", "bandPosition": 0.355, "sort": ["Hue", "Saturation"], "scale": {"paddingInner": 0, "paddingOuter": 0}, "axis": {"title": null, "labelAngle": 0, "tickBand": "extent", "tickSize": 5, "labelPadding": 11, "labelFontSize": 13.5, "labelOverlap": false, "domainColor": "#444", "tickColor": "#444"}},
                "text": {"field": "label"}
              }
            }
          ]
        }
      ]
    },
    {
      "bounds": "flush",
      "spacing": 54,
      "hconcat": [
        {
          "width": 320,
          "height": 209,
          "view": {"stroke": "#222", "strokeWidth": 1},
          "encoding": {
            "x": {"field": "shot", "type": "quantitative", "scale": {"domain": [0, 160], "nice": false}, "axis": {"title": "shot index", "values": [0, 20, 40, 60, 80, 100, 120, 140, 160], "format": "d", "grid": true, "gridDash": [2, 2], "gridColor": "#c4c4c4", "ticks": false, "domain": false, "labelFlush": false, "labelOverlap": false, "labelPadding": 5, "labelFontSize": 11.5, "titleFontSize": 11.5, "titlePadding": 3}},
            "y": {"field": "value", "type": "quantitative", "scale": {"domain": [0, 1], "nice": false}, "axis": {"title": "MusicRatio", "values": [0, 0.2, 0.4, 0.6, 0.8, 1], "format": "~r", "grid": true, "gridDash": [2, 2], "gridColor": "#c4c4c4", "ticks": false, "domain": false, "labelOverlap": false, "labelPadding": 7, "labelFontSize": 11.5, "titleFontSize": 11, "titleX": -29, "titleY": 110, "titleBaseline": "alphabetic", "minExtent": 42, "maxExtent": 42}}
          },
          "layer": [
            {
              "data": {"name": "music"},
              "mark": {"type": "line", "strokeWidth": 2, "interpolate": "monotone"},
              "encoding": {
                "stroke": {"field": "genre", "type": "nominal", "scale": {"domain": ["THEMATIC", "DRAMATIC"], "range": ["#a35a50", "#9d8ecf"]}, "legend": null}
              }
            },
            {
              "data": {"values": [{"shot": 58.3, "value": 0.58, "label": "DRAMATIC"}, {"shot": 128, "value": 0.066, "label": "THEMATIC"}]},
              "mark": {"type": "text", "fontSize": 13, "color": "#111", "font": "Liberation Sans"},
              "encoding": {"text": {"field": "label"}}
            }
          ]
        },
        {
          "width": 341,
          "height": 210,
          "view": {"stroke": "#222", "strokeWidth": 1},
          "encoding": {
            "x": {"field": "shot", "type": "quantitative", "scale": {"domain": [0, 160], "nice": false}, "axis": {"title": "shot index", "values": [0, 20, 40, 60, 80, 100, 120, 140, 160], "format": "d", "grid": true, "gridDash": [2, 2], "gridColor": "#c4c4c4", "ticks": false, "domain": false, "labelFlush": false, "labelOverlap": false, "labelPadding": 5, "labelFontSize": 11.5, "titleFontSize": 11.5, "titlePadding": 3}},
            "y": {"field": "value", "type": "quantitative", "scale": {"domain": [0, 1], "nice": false}, "axis": {"title": "FaceContentRatio", "values": [0, 0.2, 0.4, 0.6, 0.8, 1], "format": "~r", "grid": true, "gridDash": [2, 2], "gridColor": "#c4c4c4", "ticks": false, "domain": false, "labelOverlap": false, "labelPadding": 7, "labelFontSize": 11.5, "titleFontSize": 11, "titleX": -30, "titleY": 117, "titleBaseline": "alphabetic"}}
          },
          "layer": [
            {
              "data": {"name": "face"},
              "mark": {"type": "line", "strokeWidth": 2, "interpolate": "monotone"},
              "encoding": {
                "stroke": {"field": "genre", "type": "nominal", "scale": {"domain": ["THEMATIC", "DRAMATIC"], "range": ["#a35a50", "#9d8ecf"]}, "legend": null}
              }
            },
            {
              "data": {"values": [{"shot": 98.6, "value": 0.648, "label": "THEMATIC"}, {"shot": 95.8, "value": 0.134, "label": "DRAMATIC"}]},
              "mark": {"type": "text", "fontSize": 13, "color": "#111", "font": "Liberation Sans"},
              "encoding": {"text": {"field": "label"}}
            }
          ]
        },
        {
          "width": 337,
          "height": 211,
          "view": {"stroke": "#222", "strokeWidth": 1},
          "encoding": {
            "x": {"field": "shot", "type": "quantitative", "scale": {"domain": [0, 160], "nice": false}, "axis": {"title": "shot index", "values": [0, 20, 40, 60, 80, 100, 120, 140, 160], "format": "d", "grid": true, "gridDash": [2, 2], "gridColor": "#c4c4c4", "ticks": false, "domain": false, "labelFlush": false, "labelOverlap": false, "labelPadding": 5, "labelFontSize": 11.5, "titleFontSize": 11.5, "titlePadding": 3}},
            "y": {"field": "value", "type": "quantitative", "scale": {"domain": [0, 3], "nice": false}, "axis": {"title": "Motion", "values": [0, 0.5, 1, 1.5, 2, 2.5, 3], "format": "~r", "grid": true, "gridDash": [2, 2], "gridColor": "#c4c4c4", "ticks": false, "domain": false, "labelOverlap": false, "labelPadding": 7, "labelFontSize": 11.5, "titleFontSize": 11, "titleX": -29, "titleY": 109, "titleBaseline": "alphabetic"}}
          },
          "layer": [
            {
              "data": {"name": "motion"},
              "mark": {"type": "line", "strokeWidth": 2, "interpolate": "monotone"},
              "encoding": {
                "stroke": {"field": "genre", "type": "nominal", "scale": {"domain": ["THEMATIC", "DRAMATIC"], "range": ["#a35a50", "#9d8ecf"]}, "legend": null}
              }
            },
            {
              "data": {"values": [{"shot": 23.9, "value": 1.92, "label": "DRAMATIC"}, {"shot": 99.5, "value": 0.358, "label": "THEMATIC"}]},
              "mark": {"type": "text", "fontSize": 13, "color": "#111", "font": "Liberation Sans"},
              "encoding": {"text": {"field": "label"}}
            }
          ]
        }
      ]
    }
  ]
}
